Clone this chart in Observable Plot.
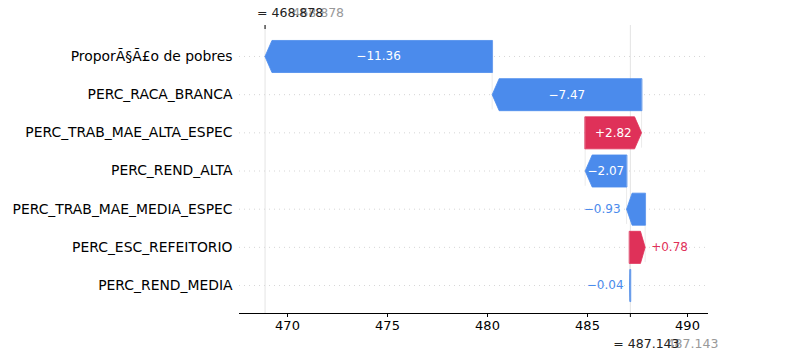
<!DOCTYPE html>
<html><head><meta charset="utf-8">
<script src="https://cdn.jsdelivr.net/npm/d3@7"></script>
<script src="https://cdn.jsdelivr.net/npm/@observablehq/plot@0.6"></script>
<style>body{margin:0;background:#fff;} svg{font-family:"DejaVu Sans",sans-serif;}</style>
</head><body><div id="chart"></div>
<script>
const features = ["ProporÃ§Ã£o de pobres", "PERC_RACA_BRANCA", "PERC_TRAB_MAE_ALTA_ESPEC", "PERC_REND_ALTA", "PERC_TRAB_MAE_MEDIA_ESPEC", "PERC_ESC_REFEITORIO", "PERC_REND_MEDIA"];
const shapValues = [-11.36, -7.47, 2.82, -2.07, -0.93, 0.78, -0.04];
const baseValue = 487.143;
const fxValue = 468.878;
const baseLabel = "487.143";
const fxLabel = "468.878";
const xTicks = [470, 475, 480, 485, 490];

const BLUE = "#4b8bec", RED = "#df3159";
const xDomain = [467.6, 491.05];
const yDomain = [-0.812, 6.733];
const rowPx = 38.17;

const n = features.length;
const bars = [];
let cur = baseValue;
for (let i = n - 1; i >= 0; i--) {
  const v = shapValues[i];
  bars[i] = {name: features[i], i, v, s: cur, e: cur + v,
    label: (v < 0 ? "\u2212" : "+") + Math.abs(v).toFixed(2)};
  cur += v;
}
const half = 0.42;
function poly(b) {
  const hl = Math.min(0.35, 0.3 * Math.abs(b.v));
  const dir = b.v < 0 ? -1 : 1;
  const neck = b.e - dir * hl;
  return [
    {name: b.name, x: b.s, y: b.i - half},
    {name: b.name, x: neck, y: b.i - half},
    {name: b.name, x: b.e, y: b.i},
    {name: b.name, x: neck, y: b.i + half},
    {name: b.name, x: b.s, y: b.i + half}
  ];
}
const negPts = bars.filter(b => b.v < 0).flatMap(poly);
const posPts = bars.filter(b => b.v >= 0).flatMap(poly);
const inside = bars.filter(b => Math.abs(b.v) > 1.5);
const outside = bars.filter(b => Math.abs(b.v) <= 1.5);

const chart = Plot.plot({
  width: 809, height: 360,
  marginLeft: 239, marginRight: 101, marginTop: 25, marginBottom: 47,
  style: {fontSize: "13px", fontFamily: "DejaVu Sans, sans-serif", background: "#fff"},
  x: {domain: xDomain},
  y: {domain: yDomain, reverse: true, axis: null},
  marks: [
    Plot.ruleY(bars, {y: "i", stroke: "#cccccc", strokeDasharray: "1,4", strokeWidth: 0.8}),
    Plot.ruleX([fxValue], {stroke: "#dddddd", strokeWidth: 0.8}),
    Plot.ruleX([baseValue], {stroke: "#dddddd", strokeWidth: 0.8}),
    Plot.ruleX(bars.slice(0, n - 1), {x: "s", y1: d => d.i - 0.4, y2: d => d.i + 1.4, stroke: "#dddddd", strokeWidth: 0.6}),
    Plot.line(negPts, {x: "x", y: "y", z: "name", fill: BLUE, stroke: BLUE, strokeWidth: 0.8, curve: "linear-closed"}),
    Plot.line(posPts, {x: "x", y: "y", z: "name", fill: RED, stroke: RED, strokeWidth: 0.8, curve: "linear-closed"}),
    Plot.text(inside, {x: d => (d.s + d.e) / 2, y: "i", text: "label", fill: "white", fontSize: 12}),
    Plot.text(outside.filter(d => d.v >= 0), {x: "e", y: "i", text: "label", fontSize: 12, fill: RED, textAnchor: "start", dx: 6}),
    Plot.text(outside.filter(d => d.v < 0), {x: "e", y: "i", text: "label", fontSize: 12, fill: BLUE, textAnchor: "end", dx: -6}),
    Plot.text(bars, {x: xDomain[0], y: "i", text: "name", textAnchor: "end", dx: -7, fill: "#000", fontSize: 13.9}),
    Plot.ruleY([yDomain[1]], {stroke: "#000", strokeWidth: 1}),
    Plot.axisX({ticks: xTicks, tickSize: 4, tickPadding: 3, label: null, fontSize: 13, color: "#000"}),
    Plot.ruleX([baseValue], {y1: yDomain[1], y2: yDomain[1] + 4 / rowPx, stroke: "#000"}),
    Plot.ruleX([fxValue], {y1: yDomain[0], y2: yDomain[0] + 4 / rowPx, stroke: "#000"}),
    Plot.text([fxLabel], {x: fxValue, y: yDomain[0], text: d => d, textAnchor: "end", dx: 79, dy: -13, fill: "#999", fontSize: 12.5}),
    Plot.text([fxLabel], {x: fxValue, y: yDomain[0], text: d => "= " + d, textAnchor: "start", dx: -8, dy: -13, fill: "#222", fontSize: 12.5}),
    Plot.text([baseLabel], {x: baseValue, y: yDomain[1], text: d => d, textAnchor: "end", dx: 88, dy: 30, fill: "#999", fontSize: 12.5}),
    Plot.text([baseLabel], {x: baseValue, y: yDomain[1], text: d => "= " + d, textAnchor: "start", dx: -17, dy: 30, fill: "#222", fontSize: 12.5})
  ]
});
document.getElementById("chart").append(chart);
</script>
</body></html>
